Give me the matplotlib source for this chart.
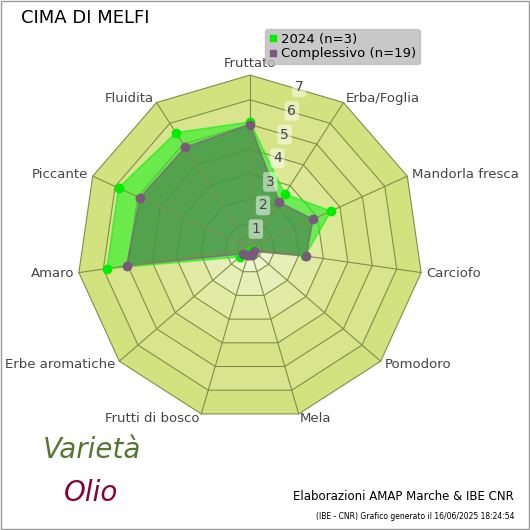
import numpy as np
import matplotlib.pyplot as plt
from matplotlib.patches import Polygon, Rectangle
from matplotlib.lines import Line2D

categories = ["Fruttato", "Erba/Foglia", "Mandorla fresca", "Carciofo", "Pomodoro", "Mela",
              "Frutti di bosco", "Erbe aromatiche", "Amaro", "Piccante", "Fluidita"]
val_2024 = [5.1, 2.6, 3.6, 2.25, 0.15, 0.1, 0.2, 0.55, 5.85, 5.85, 5.55]
val_all = [5.0, 2.2, 2.8, 2.3, 0.2, 0.3, 0.3, 0.35, 5.05, 4.9, 4.85]
ring_ticks = [1, 2, 3, 4, 5, 6, 7]

n = len(categories)
ang = np.arange(n) * 2 * np.pi / n


def xy(r, a):
    return np.array(r) * np.sin(a), np.array(r) * np.cos(a)


fig = plt.figure(figsize=(5.3, 5.3), dpi=100)
ax = fig.add_axes([0, 0, 1, 1])
u = 24.7
ax.set_xlim(-250 / u, 280 / u)
ax.set_ylim(-282 / u, 248 / u)
ax.axis("off")
fig.patches.append(Rectangle((0.002, 0.002), 0.996, 0.996, transform=fig.transFigure,
                             fill=False, ec="#999999", lw=1))

# background bands
cols = ["#d2e27e", "#d8e58c", "#d6e487", "#dce895", "#e1eba3", "#e7efb8", "#eef4cc"]
for i, r in enumerate(range(7, 0, -1)):
    x, y = xy(np.full(n, r), ang)
    ax.add_patch(Polygon(np.c_[x, y], closed=True, fc=cols[i], ec="#7f8f4a", lw=0.8))
x, y = xy(np.full(n, 0.5), ang)
ax.add_patch(Polygon(np.c_[x, y], closed=True, fc="#f5f8e4", ec="#7f8f4a", lw=0.8))
for a in ang:
    ax.plot([0, 7 * np.sin(a)], [0, 7 * np.cos(a)], color="#7f8f4a", lw=0.8)

# series
x, y = xy(val_2024, ang)
ax.add_patch(Polygon(np.c_[x, y], closed=True, fc="#22ee22", alpha=0.6, ec="#11ee11", lw=1.2))
ax.plot(x, y, "o", color="#00ee00", ms=6, zorder=5)
x2, y2 = xy(val_all, ang)
ax.add_patch(Polygon(np.c_[x2, y2], closed=True, fc="#4a8450", alpha=0.7, ec="#806080", lw=1.2))
ax.plot(x2, y2, "o", color="#7a5a7a", ms=6, zorder=6)

for t in ring_ticks:
    a = np.radians(17)
    ax.text((t - 0.2) * np.sin(a), (t - 0.2) * np.cos(a), str(t), fontsize=10, color="#444444",
            ha="center", va="center",
            bbox=dict(boxstyle="round,pad=0.2", fc="white", ec="none", alpha=0.5))

for c, a in zip(categories, ang):
    s = np.sin(a)
    ha = "center" if abs(s) < 0.2 else ("left" if s > 0 else "right")
    r = 7.45 if abs(s) < 0.2 else 7.2
    ax.text(r * np.sin(a), r * np.cos(a), c, fontsize=9.5, color="#444444", ha=ha, va="center")

handles = [Line2D([], [], ls="none", marker="s", ms=5, color="#00ee00"),
           Line2D([], [], ls="none", marker="s", ms=5, color="#7a5a7a")]
leg = ax.legend(handles, ["2024 (n=3)", "Complessivo (n=19)"], loc="upper left",
                bbox_to_anchor=(0.5, 0.945), fontsize=9.5, frameon=True,
                handletextpad=0.3, borderpad=0.3, labelspacing=0.1, handlelength=0.6,
                borderaxespad=0)
leg.get_frame().set_facecolor("#bbbbbb")
leg.get_frame().set_edgecolor("#bbbbbb")

fig.text(0.04, 0.966, "CIMA DI MELFI", fontsize=13, va="center", ha="left")
fig.text(0.97, 0.064, "Elaborazioni AMAP Marche & IBE CNR", fontsize=8.5, ha="right", va="center")
fig.text(0.97, 0.026, "(IBE - CNR) Grafico generato il 16/06/2025 18:24:54", fontsize=5.5,
         ha="right", va="center")
fig.text(0.08, 0.15, "Varietà", fontsize=20, style="italic", color="#557733", va="center")
fig.text(0.12, 0.07, "Olio", fontsize=20, style="italic", color="#880033", va="center")

fig.savefig("out.png", dpi=100)
